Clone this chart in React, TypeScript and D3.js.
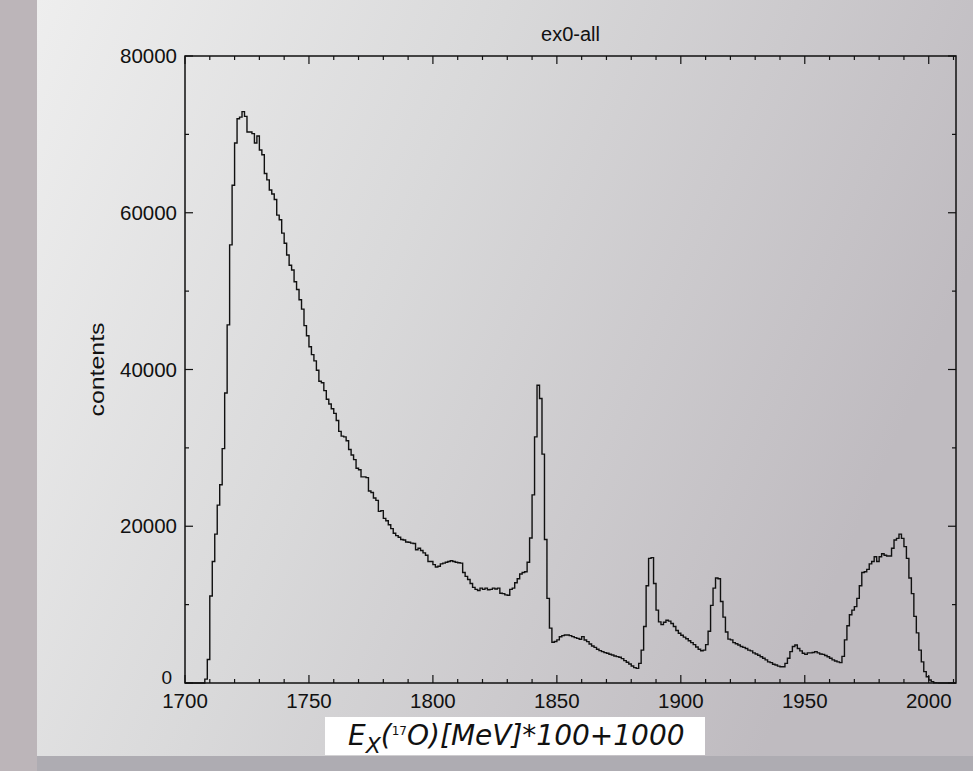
import { useEffect, useRef } from "react";
import * as d3 from "d3";

// histogram: 1-unit bins starting at 1700
const binLow = 1700;
const binHigh = 2011;
const counts = [
  0, 0, 0, 0, 0, 0, 0, 0, 500, 3000,
  11100, 15500, 19000, 22700, 25300, 29900, 37000, 45700, 55900, 63500,
  68900, 72000, 72200, 72900, 72300, 70300, 70300, 70100, 68900, 69800,
  68000, 67400, 65000, 64200, 62900, 62400, 61700, 59700, 59100, 57400,
  56100, 54600, 53300, 52700, 51200, 50200, 48900, 47700, 45600, 44300,
  42900, 41900, 41100, 39900, 38500, 38300, 37300, 36200, 35600, 35000,
  34400, 33500, 32100, 31500, 31400, 30900, 29800, 29100, 28500, 27400,
  27200, 26300, 26300, 26200, 24500, 24300, 23600, 23300, 21900, 22000,
  21000, 20700, 20200, 19700, 19100, 18800, 18600, 18300, 18250, 18000,
  17950, 17850, 17800, 17000, 17200, 16900, 16600, 16300, 15500, 15500,
  15100, 14800, 14900, 15200, 15300, 15400, 15500, 15600, 15500, 15400,
  15350, 15300, 14100, 13600, 13200, 12700, 12200, 11950, 11800, 12100,
  11950, 12100, 11900, 11950, 12100, 12000, 12100, 11450, 11400, 11250,
  11200, 11950, 12100, 12800, 13300, 13900, 14100, 14200, 15400, 18500,
  24000, 31400, 38000, 36300, 29200, 18300, 10800, 7000, 5200, 5300,
  5500, 5900, 6050, 6130, 6130, 6050, 5920, 5790, 5700, 5580,
  5920, 5490, 5280, 4980, 4720, 4550, 4300, 4130, 4000, 3870,
  3790, 3660, 3570, 3450, 3360, 3280, 3110, 2850, 2640, 2420,
  2170, 1960, 1870, 2500, 4200, 7200, 12400, 15900, 16000, 12700,
  9300, 7800, 7450, 7750, 8000, 7900, 7600, 7200, 6700, 6350,
  6100, 5850, 5650, 5400, 5150, 4900, 4600, 4300, 4120, 4200,
  4900, 6600, 9900, 12100, 13400, 13300, 10400, 8400, 6500, 5600,
  5500, 5150, 5000, 4850, 4650, 4550, 4400, 4200, 4100, 3850,
  3700, 3550, 3350, 3150, 2950, 2700, 2600, 2400, 2300, 2150,
  2080, 2080, 2500, 3150, 4000, 4650, 4850, 4400, 4100, 3800,
  3650, 3850, 3850, 3900, 4000, 3850, 3700, 3650, 3500, 3350,
  3150, 2950, 2800, 2700, 2600, 3400, 5500, 7300, 8700, 9300,
  9750, 10800, 12400, 14100, 14200, 14500, 15200, 15500, 16100, 15500,
  16100, 16500, 16300, 16200, 16200, 17200, 18250, 18450, 19000, 18450,
  17400, 15900, 13400, 11400, 8500, 6400, 4200, 2700, 1450, 800,
  380, 170, 40, 20, 0, 0, 0, 0, 0, 0, 0,
];

const xMajorTicks = [1700, 1750, 1800, 1850, 1900, 1950, 2000];
const xMinorTicks = d3.range(1700, 2011, 10);
const yMajorTicks = [0, 20000, 40000, 60000, 80000];
const yMinorTicks = d3.range(0, 80001, 10000);

const title = "ex0-all";
const yTitle = "contents";

const App = () => {
  const svgRef = useRef(null);
  const width = 973;
  const height = 771;

  useEffect(() => {
    const svg = d3.select(svgRef.current);
    svg.selectAll("*").remove();

    const defs = svg.append("defs");
    const grad = defs.append("linearGradient")
      .attr("id", "bg")
      .attr("x1", 0).attr("y1", 0).attr("x2", 1).attr("y2", 0.35);
    grad.append("stop").attr("offset", "0%").attr("stop-color", "#eeeeee");
    grad.append("stop").attr("offset", "45%").attr("stop-color", "#d9d9da");
    grad.append("stop").attr("offset", "100%").attr("stop-color", "#bfbbc0");

    // backdrop
    svg.append("rect").attr("width", width).attr("height", height).attr("fill", "#aeacb2");
    svg.append("rect").attr("x", 0).attr("y", 0).attr("width", 37).attr("height", height).attr("fill", "#bcb5b9");
    svg.append("rect").attr("x", 37).attr("y", 0).attr("width", width - 37).attr("height", 756).attr("fill", "url(#bg)");

    const left = 185, right = 956, top = 56, bottom = 683;
    const x = d3.scaleLinear().domain([binLow, binHigh]).range([left, right]);
    const y = d3.scaleLinear().domain([0, 80000]).range([bottom, top]);

    const g = svg.append("g");

    // histogram step line
    const pts = counts.map((c, i) => [binLow + i, c]);
    pts.push([binLow + counts.length, counts[counts.length - 1]]);
    const line = d3.line()
      .x(d => x(d[0]))
      .y(d => y(d[1]))
      .curve(d3.curveStepAfter);
    g.append("path")
      .datum(pts)
      .attr("d", line)
      .attr("fill", "none")
      .attr("stroke", "#111")
      .attr("stroke-width", 1.4);

    // frame
    g.append("rect")
      .attr("x", left).attr("y", top)
      .attr("width", right - left).attr("height", bottom - top)
      .attr("fill", "none").attr("stroke", "#111").attr("stroke-width", 1.5);

    const tickG = g.append("g").attr("stroke", "#111").attr("stroke-width", 1.2);
    xMinorTicks.forEach(t => {
      const len = xMajorTicks.includes(t) ? 8 : 4;
      tickG.append("line").attr("x1", x(t)).attr("x2", x(t)).attr("y1", bottom).attr("y2", bottom - len);
      tickG.append("line").attr("x1", x(t)).attr("x2", x(t)).attr("y1", top).attr("y2", top + len);
    });
    yMinorTicks.forEach(t => {
      const len = yMajorTicks.includes(t) ? 8 : 4;
      tickG.append("line").attr("x1", left).attr("x2", left + len).attr("y1", y(t)).attr("y2", y(t));
      tickG.append("line").attr("x1", right).attr("x2", right - len).attr("y1", y(t)).attr("y2", y(t));
    });

    const font = "'Liberation Sans', Arial, sans-serif";
    g.selectAll(".xl")
      .data(xMajorTicks)
      .enter()
      .append("text")
      .attr("x", d => x(d))
      .attr("y", 708)
      .attr("text-anchor", "middle")
      .attr("font-family", font)
      .attr("font-size", 20.5)
      .attr("fill", "#111")
      .text(d => d);

    g.selectAll(".yl")
      .data(yMajorTicks)
      .enter()
      .append("text")
      .attr("x", d => (d === 0 ? 172 : 177))
      .attr("y", d => y(d) + (d === 0 ? 1 : 7))
      .attr("text-anchor", "end")
      .attr("font-family", font)
      .attr("font-size", d => (d === 0 ? 19 : 20.5))
      .attr("fill", "#111")
      .text(d => d);

    g.append("text")
      .attr("x", (left + right) / 2)
      .attr("y", 41)
      .attr("text-anchor", "middle")
      .attr("font-family", font)
      .attr("font-size", 20)
      .attr("fill", "#111")
      .text(title);

    g.append("text")
      .attr("transform", `translate(104,${(top + bottom) / 2}) rotate(-90)`)
      .attr("text-anchor", "middle")
      .attr("font-family", font)
      .attr("font-size", 21)
      .attr("textLength", 94)
      .attr("lengthAdjust", "spacingAndGlyphs")
      .attr("fill", "#111")
      .text(yTitle);

    // x-axis title on white box
    g.append("rect")
      .attr("x", 325).attr("y", 717).attr("width", 380).attr("height", 38)
      .attr("fill", "#ffffff");
    const xt = g.append("text")
      .attr("x", 348)
      .attr("y", 745)
      .attr("font-family", "'DejaVu Sans', sans-serif")
      .attr("font-style", "italic")
      .attr("font-size", 28)
      .attr("fill", "#111");
    xt.append("tspan").text("E");
    xt.append("tspan").attr("dy", 8).attr("font-size", 22).text("X");
    xt.append("tspan").attr("dy", -8).text("(");
    xt.append("tspan").attr("dy", -10).attr("font-size", 12).attr("font-style", "normal").text("17");
    xt.append("tspan").attr("dy", 10).text("O)[MeV]*100+1000");
  }, []);

  return (
    <svg
      ref={svgRef}
      width={width}
      height={height}
      style={{ position: "absolute", left: 0, top: 0, display: "block" }}
    />
  );
};

export default App;
